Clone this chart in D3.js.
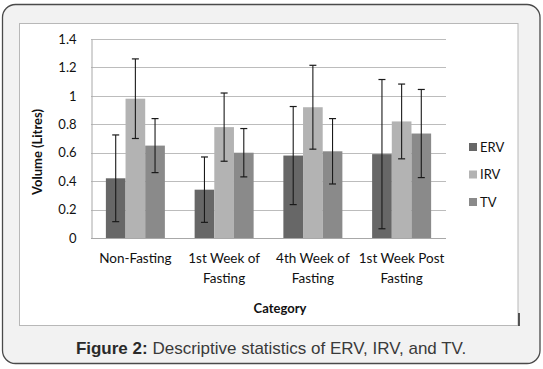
<!DOCTYPE html>
<html><head><meta charset="utf-8">
<script src="https://cdn.jsdelivr.net/npm/d3@7"></script>
<style>body{margin:0;background:#fff}svg{display:block}</style>
</head><body>
<script>
const categories = [["Non-Fasting"], ["1st Week of", "Fasting"], ["4th Week of", "Fasting"], ["1st Week Post", "Fasting"]];
const seriesNames = ["ERV", "IRV", "TV"];
const ervValues = [0.42, 0.34, 0.58, 0.59];
const irvValues = [0.98, 0.78, 0.92, 0.82];
const tvValues = [0.65, 0.60, 0.61, 0.735];
const ervErrors = [0.305, 0.23, 0.345, 0.525];
const irvErrors = [0.28, 0.24, 0.295, 0.263];
const tvErrors = [0.19, 0.17, 0.23, 0.31];
const yTicks = [0, 0.2, 0.4, 0.6, 0.8, 1, 1.2, 1.4];
const colors = ["#676767", "#b3b3b3", "#8a8a8a"];

const values = [ervValues, irvValues, tvValues];
const errors = [ervErrors, irvErrors, tvErrors];

const W = 543, H = 369;
const svg = d3.select("body").append("svg").attr("width", W).attr("height", H);
const font = "Lato, 'Open Sans', sans-serif";

// outer frame
svg.append("rect").attr("x", 2.5).attr("y", 4.5).attr("width", 537.5).attr("height", 359)
  .attr("rx", 13).attr("fill", "#f2f2f2").attr("stroke", "#4a4a4a").attr("stroke-width", 1.3);
// inner chart area
svg.append("rect").attr("x", 19.5).attr("y", 23.5).attr("width", 498.5).attr("height", 302)
  .attr("fill", "#fff").attr("stroke", "#b8b8b8").attr("stroke-width", 1);
svg.append("line").attr("x1", 519).attr("x2", 519).attr("y1", 313).attr("y2", 326)
  .attr("stroke", "#222").attr("stroke-width", 1.5);

const x0 = d3.scaleBand().domain(d3.range(categories.length)).range([91, 446]).paddingInner(0).paddingOuter(0);
const groupW = 59;
const x1 = d3.scaleBand().domain(d3.range(seriesNames.length)).range([0, groupW]);
const y = d3.scaleLinear().domain([0, 1.4]).range([238, 39]);

// gridlines
svg.append("g").selectAll("line").data(yTicks.filter(t => t > 0)).join("line")
  .attr("x1", 91).attr("x2", 446).attr("y1", d => Math.round(y(d)) + 0.5).attr("y2", d => Math.round(y(d)) + 0.5)
  .attr("stroke", "#bcbcbc").attr("stroke-width", 1);

// y axis
const yAxis = svg.append("g").attr("transform", "translate(91.5,0)")
  .call(d3.axisLeft(y).tickValues(yTicks).tickSize(0).tickPadding(15).tickFormat(d => d3.format("")(d)));
yAxis.select(".domain").attr("stroke", "#a8a8a8");
yAxis.selectAll("text").attr("font-family", font).attr("font-size", 13).attr("fill", "#111");

// bars
const groups = svg.append("g").selectAll("g").data(categories).join("g")
  .attr("transform", (d, i) => `translate(${x0(i) + (x0.bandwidth() - groupW) / 2},0)`);
groups.each(function (c, i) {
  const g = d3.select(this);
  seriesNames.forEach((s, j) => {
    const v = values[j][i], e = errors[j][i];
    g.append("rect").attr("x", x1(j)).attr("width", x1.bandwidth())
      .attr("y", y(v)).attr("height", y(0) - y(v)).attr("fill", colors[j]);
    const cx = x1(j) + x1.bandwidth() / 2;
    g.append("line").attr("x1", cx).attr("x2", cx).attr("y1", y(v + e)).attr("y2", y(Math.max(0, v - e)))
      .attr("stroke", "#1a1a1a").attr("stroke-width", 1.1);
    [v + e, v - e].forEach(t => {
      g.append("line").attr("x1", cx - 3.5).attr("x2", cx + 3.5).attr("y1", y(t)).attr("y2", y(t))
        .attr("stroke", "#1a1a1a").attr("stroke-width", 1.2);
    });
  });
});

// x axis line
svg.append("line").attr("x1", 91).attr("x2", 446).attr("y1", 238.5).attr("y2", 238.5)
  .attr("stroke", "#a8a8a8").attr("stroke-width", 1);

// x labels
svg.append("g").selectAll("text").data(categories).join("text")
  .attr("x", (d, i) => x0(i) + x0.bandwidth() / 2).attr("y", 263)
  .attr("text-anchor", "middle").attr("font-family", font).attr("font-size", 13.5).attr("fill", "#111")
  .each(function (d) {
    d.forEach((line, k) => {
      d3.select(this).append("tspan").attr("x", d3.select(this).attr("x")).attr("dy", k === 0 ? 0 : 20).text(line);
    });
  });

// axis titles
svg.append("text").attr("x", 280).attr("y", 313).attr("text-anchor", "middle")
  .attr("font-family", font).attr("font-size", 13).attr("font-weight", "bold").attr("fill", "#111").text("Category");
svg.append("text").attr("transform", "translate(42,152) rotate(-90)").attr("text-anchor", "middle")
  .attr("font-family", font).attr("font-size", 13).attr("font-weight", "bold").attr("fill", "#111").text("Volume (Litres)");

// legend
const legend = svg.append("g").selectAll("g").data(seriesNames).join("g")
  .attr("transform", (d, i) => `translate(469,${147 + i * 27.5})`);
legend.append("rect").attr("x", 0).attr("y", -4).attr("width", 8).attr("height", 8).attr("fill", (d, i) => colors[i]);
legend.append("text").attr("x", 11).attr("y", 4.5).attr("font-family", font).attr("font-size", 13).attr("fill", "#111").text(d => d);

// caption
const cap = svg.append("text").attr("x", 271).attr("y", 354).attr("text-anchor", "middle")
  .attr("font-family", "'Liberation Sans', Arial, sans-serif").attr("font-size", 17).attr("fill", "#3a3a3a");
cap.append("tspan").attr("font-weight", "bold").attr("fill", "#2a2a2a").text("Figure 2:");
cap.append("tspan").text(" Descriptive statistics of ERV, IRV, and TV.");
</script>
</body></html>
